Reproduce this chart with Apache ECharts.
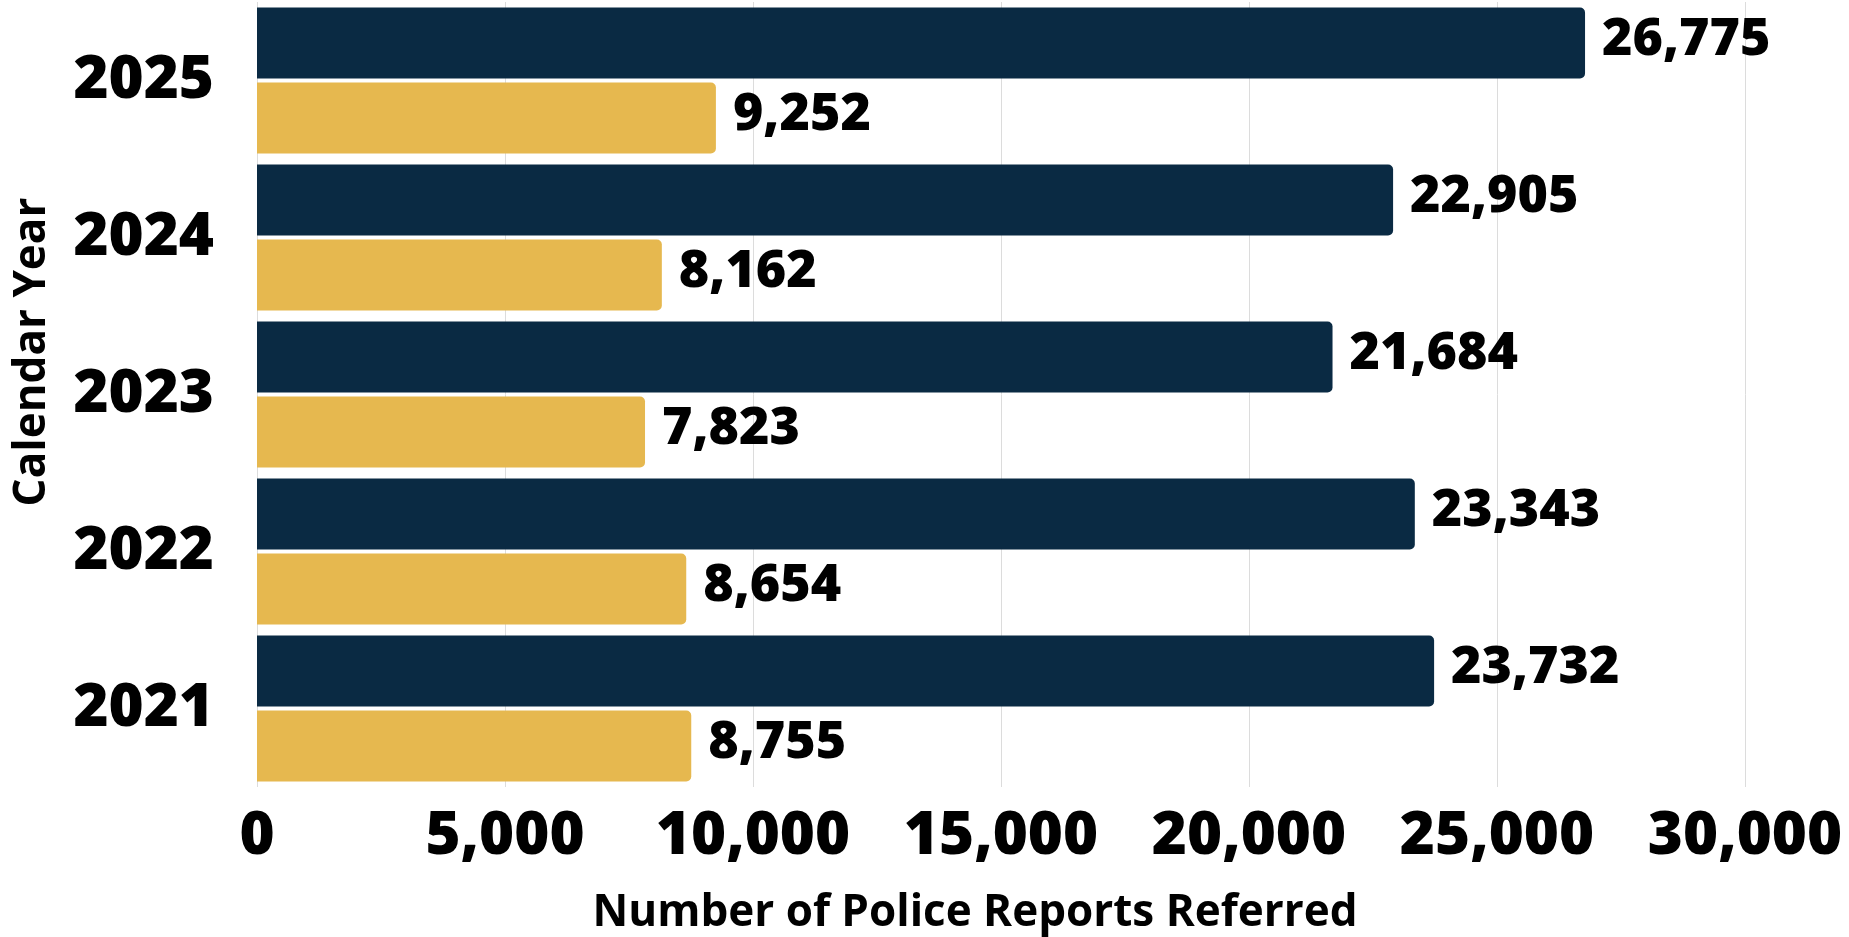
<!DOCTYPE html>
<html>
<head>
<meta charset="utf-8">
<script src="https://cdn.jsdelivr.net/npm/echarts@6/dist/echarts.min.js"></script>
<style>
html,body{margin:0;padding:0;background:#fff;}
#chart{width:1849px;height:937px;}
</style>
</head>
<body>
<div id="chart"></div>
<script>
const years = ['2021', '2022', '2023', '2024', '2025'];
const referredTotal = [23732, 23343, 21684, 22905, 26775];
const referredOther = [8755, 8654, 7823, 8162, 9252];
const xTicks = [0, 5000, 10000, 15000, 20000, 25000, 30000];
const xAxisTitle = 'Number of Police Reports Referred';
const yAxisTitle = 'Calendar Year';

const FONT = '"Open Sans", "DejaVu Sans", sans-serif';
const fmt = v => Number(v).toLocaleString('en-US');

const chart = echarts.init(document.getElementById('chart'), null, {renderer: 'canvas'});
chart.setOption({
  animation: false,
  backgroundColor: '#ffffff',
  grid: {left: 257, right: 104, top: 2, bottom: 150, containLabel: false},
  xAxis: {
    type: 'value',
    min: xTicks[0],
    max: xTicks[xTicks.length - 1],
    interval: xTicks[1] - xTicks[0],
    axisLine: {show: false},
    axisTick: {show: false},
    splitLine: {show: true, lineStyle: {color: '#dcdcdc', width: 1}},
    axisLabel: {
      formatter: fmt,
      fontFamily: FONT, fontWeight: 800, fontSize: 60, color: '#000',
      margin: 20
    }
  },
  yAxis: {
    type: 'category',
    data: years,
    axisLine: {show: false},
    axisTick: {show: false},
    axisLabel: {
      fontFamily: FONT, fontWeight: 800, fontSize: 60, color: '#000',
      margin: 43, padding: [10, 0, 0, 0]
    }
  },
  graphic: [
    {
      type: 'text', x: 975, y: 913,
      style: {text: xAxisTitle, fontFamily: FONT, fontWeight: 700, fontSize: 44, fill: '#000',
              align: 'center', verticalAlign: 'middle'}
    },
    {
      type: 'text', x: 32, y: 352, rotation: Math.PI / 2,
      style: {text: yAxisTitle, fontFamily: FONT, fontWeight: 700, fontSize: 44, fill: '#000',
              align: 'center', verticalAlign: 'middle'}
    }
  ],
  series: [
    {
      type: 'bar',
      data: referredTotal,
      barCategoryGap: '7%',
      barGap: '5.5%',
      itemStyle: {color: '#0A2A43', borderRadius: [0, 5, 5, 0]},
      label: {show: true, position: 'right', distance: 17, offset: [0, -3], formatter: p => fmt(p.value),
              fontFamily: FONT, fontWeight: 800, fontSize: 52, color: '#000'}
    },
    {
      type: 'bar',
      data: referredOther,
      barCategoryGap: '7%',
      barGap: '5.5%',
      itemStyle: {color: '#E6B84F', borderRadius: [0, 5, 5, 0]},
      label: {show: true, position: 'right', distance: 17, offset: [0, -3], formatter: p => fmt(p.value),
              fontFamily: FONT, fontWeight: 800, fontSize: 52, color: '#000'}
    }
  ]
});
</script>
</body>
</html>
